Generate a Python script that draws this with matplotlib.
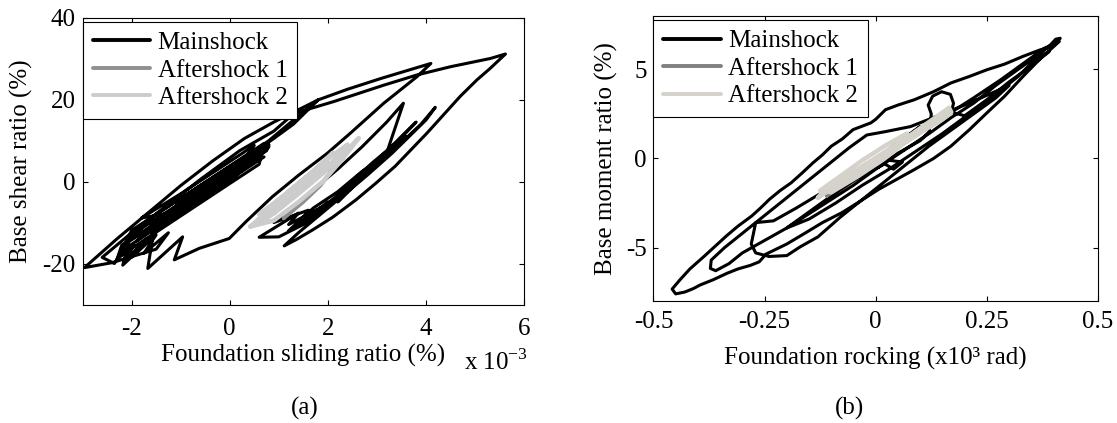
import numpy as np
import matplotlib
matplotlib.use("Agg")
import matplotlib.pyplot as plt

plt.rcParams["font.family"] = ["Liberation Serif", "DejaVu Serif"]
plt.rcParams["mathtext.fontset"] = "custom"
plt.rcParams["mathtext.rm"] = "Liberation Serif"
plt.rcParams["axes.unicode_minus"] = False

# (a) sliding ratio (x 10^-3 %) vs base shear ratio (%)
main_a = [
    # dense cycles near the origin
    (0.0, 0.0), (0.4, 4.5), (0.8, 8.5), (0.5, 5.0), (-0.2, -1.5), (-0.9, -7.0),
    (-1.8, -8.9), (-1.0, -3.0), (-0.3, 2.5), (0.5, 8.8), (0.0, 0.5), (-1.0, -7.4),
    (-2.2, -16.9), (-2.0, -11.9), (-1.0, -4.1), (0.0, 3.8), (0.7, 9.3), (0.6, 4.2),
    (0.0, -0.5), (-1.0, -8.4), (-2.2, -17.9), (-2.0, -13.0), (-1.0, -5.2), (0.0, 2.7),
    (0.8, 9.0), (0.75, 7.5), (0.0, 1.6), (-1.0, -6.3), (-2.1, -15.0), (-1.5, -8.0),
    (-0.6, -1.0), (0.3, 6.0), (0.7, 6.0), (0.0, 0.5), (-0.8, -6.0), (-1.6, -12.5),
    (-1.0, -4.8), (-0.2, 1.8), (0.6, 8.2), (0.2, 2.3), (-0.5, -3.6), (-1.3, -10.0),
    (-1.6, -10.6), (-0.8, -4.3), (0.0, 2.0), (0.65, 7.2), (0.3, 3.2), (-0.5, -3.5),
    (-1.4, -10.6), (-0.7, -3.8), (0.1, 2.8), (0.7, 7.8), (0.4, 4.6), (-0.4, -2.0),
    (-1.2, -8.2), (-1.9, -14.5), (-1.3, -8.0), (-0.5, -1.0), (0.3, 5.5), (0.9, 10.5),
    (1.3, 14.0), (1.8, 19.9), (1.4, 16.0), (0.8, 10.0), (0.1, 4.0), (-0.6, -2.0),
    (-1.2, -7.5), (-1.8, -12.5), (-2.2, -15.5),
    # saw-tooth at the lower left
    (-2.3, -19.0), (-1.95, -15.5), (-2.15, -19.5), (-1.7, -14.0), (-2.0, -18.5),
    (-1.5, -13.0), (-1.75, -17.5), (-1.25, -12.5), (-1.5, -16.5), (-2.4, -19.8),
    (-2.96, -21.0),
    # outer loop to peak A
    (-2.3, -14.0), (-1.65, -7.5), (-1.0, -1.0), (-0.35, 5.0), (0.3, 10.5), (0.9, 14.5),
    (1.4, 17.5), (1.8, 19.9), (2.4, 22.5), (3.1, 25.2), (3.6, 27.0), (4.1, 28.8),
    (3.82, 25.6), (3.14, 19.1), (2.46, 11.8), (1.99, 6.9), (1.4, 1.5), (0.87, -3.7),
    (0.33, -9.8), (-0.01, -13.9), (-0.62, -16.3), (-1.13, -19.1), (-0.96, -13.5),
    (-1.67, -21.2), (-1.57, -13.5), (-2.18, -20.4), (-2.04, -13.9), (-2.35, -20.0),
    (-2.6, -18.5), (-2.0, -12.5), (-1.3, -6.0), (-0.6, 0.5), (0.2, 7.5), (0.9, 12.3),
    (1.31, 16.6),
    # loop to peak B
    (2.12, 19.5), (3.14, 23.5), (3.82, 26.0), (4.5, 28.0), (5.31, 30.0), (5.62, 31.1),
    (5.3, 27.5), (5.04, 24.8), (4.7, 20.8), (4.39, 16.7), (4.02, 11.8), (3.7, 7.8),
    (3.37, 3.7), (2.97, -0.5), (2.57, -4.5), (2.1, -8.7), (1.69, -11.8), (1.35, -14.2),
    (1.11, -15.7),
    # right cluster
    (1.4, -12.5), (1.8, -8.5), (2.3, -3.5), (2.8, 1.5), (3.3, 6.8), (3.7, 11.5),
    (4.0, 15.0), (4.19, 18.1), (3.9, 14.0), (3.5, 9.5), (3.0, 4.0), (2.5, -1.0),
    (2.0, -6.0), (1.5, -10.5), (1.0, -13.5), (0.6, -13.6), (1.4, -7.7), (1.2, -10.5),
    (1.9, -6.1), (1.6, -9.5), (2.4, -2.5), (2.2, -5.0), (2.8, 2.0), (3.2, 7.0),
    (3.54, 19.1), (3.2, 14.5), (2.7, 8.5), (2.2, 3.0), (1.7, -2.0), (1.3, -6.5),
    (0.9, -10.0), (1.6, -7.0), (1.4, -10.5), (2.0, -5.0), (1.8, -8.0), (2.6, 0.0),
    (3.1, 5.5), (2.7, 2.5), (2.2, -2.5), (1.7, -6.5), (1.2, -12.0), (1.6, -9.0),
    (2.4, -1.5), (3.2, 7.0), (3.6, 11.0), (3.3, 8.5), (2.8, 3.0), (2.3, -2.0),
    (2.9, 4.5), (3.4, 9.5), (3.8, 14.5), (3.5, 11.0), (3.0, 5.0),
]
after1_a = [
    (1.1, -9.0), (1.5, -5.0), (1.85, -1.0), (2.1, 3.0), (1.9, 0.0), (1.5, -4.5),
    (1.15, -8.0), (1.1, -9.0),
]
after2_a = [
    (0.42, -11.0), (0.9, -7.8), (1.4, -3.0), (1.9, 2.0), (2.3, 6.5), (2.63, 10.6),
    (2.3, 5.5), (1.9, 0.0), (1.4, -5.0), (0.9, -9.5), (0.42, -11.0), (0.6, -9.0),
    (1.0, -4.5), (1.5, 0.5), (2.0, 5.5), (2.4, 9.0), (2.2, 6.0), (1.7, 0.5),
    (1.2, -4.5), (0.7, -8.5), (0.8, -6.5), (1.2, -2.5), (1.7, 2.5), (2.1, 7.0),
    (1.8, 3.0), (1.3, -2.0), (0.9, -6.0), (0.6, -8.0), (1.1, -3.5), (1.6, 1.5),
    (2.0, 4.5), (1.6, -0.5), (1.1, -5.5), (0.7, -9.5),
]

# (b) foundation rocking (x10^3 rad) vs base moment ratio (%)
main_b = [
    (0.0, 0.0), (0.05, 0.9), (0.1, 1.8), (0.06, 1.0), (0.0, 0.0), (-0.05, -1.0),
    (-0.1, -1.9), (-0.06, -1.1), (0.006, -0.5), (0.06, 0.4), (0.12, 1.4), (0.17, 2.3),
    (0.22, 3.1), (0.27, 4.1), (0.32, 5.0), (0.36, 5.7), (0.39, 6.3), (0.405, 6.7),
    (0.415, 6.75), (0.397, 6.29), (0.37, 6.1), (0.331, 5.73), (0.29, 5.3), (0.25, 4.98),
    (0.21, 4.6), (0.169, 4.24), (0.13, 3.75), (0.087, 3.3), (0.05, 3.0), (0.022, 2.74),
    (0.0, 2.2), (-0.011, 2.0), (-0.051, 1.62), (-0.075, 1.1), (-0.1, 0.69),
    (-0.12, 0.2), (-0.141, -0.24), (-0.165, -0.8), (-0.19, -1.36), (-0.215, -1.8),
    (-0.239, -2.29), (-0.26, -2.8), (-0.279, -3.23), (-0.31, -3.8), (-0.336, -4.35),
    (-0.36, -4.9), (-0.385, -5.47), (-0.4, -5.8), (-0.418, -6.2), (-0.44, -6.8),
    (-0.458, -7.33), (-0.45, -7.6), (-0.43, -7.5), (-0.41, -7.3), (-0.395, -7.1),
    (-0.365, -6.8), (-0.335, -6.45), (-0.31, -6.2), (-0.282, -6.0), (-0.262, -5.8),
    (-0.247, -5.37), (-0.2, -4.8), (-0.157, -4.16), (-0.12, -3.6), (-0.076, -3.04),
    (-0.035, -2.4), (0.006, -1.74), (0.045, -1.2), (0.087, -0.62), (0.13, 0.0),
    (0.169, 0.69), (0.21, 1.6), (0.25, 2.56), (0.29, 3.5), (0.331, 4.6), (0.37, 5.6),
    (0.413, 6.57), (0.38, 6.2), (0.33, 5.3), (0.28, 4.4), (0.22, 3.4), (0.17, 2.6),
    (0.12, 1.8), (0.06, 0.9), (0.0, 0.0), (-0.06, -0.9), (-0.12, -1.9), (-0.18, -2.8),
    (-0.23, -3.5), (-0.27, -3.6), (-0.275, -4.2), (-0.28, -4.8), (-0.27, -5.3),
    (-0.24, -5.5), (-0.2, -5.45), (-0.17, -4.96), (-0.13, -4.4), (-0.08, -3.3),
    (-0.03, -2.3), (0.02, -1.3), (0.07, -0.3), (0.12, 0.7), (0.17, 1.6), (0.22, 2.5),
    (0.27, 3.4), (0.3, 4.1), (0.2, 3.0), (0.13, 2.3), (0.078, 1.79), (0.02, 1.5),
    (-0.02, 1.32), (-0.06, 0.6), (-0.1, -0.2), (-0.15, -1.2), (-0.2, -2.2),
    (-0.25, -3.2), (-0.3, -4.2), (-0.34, -5.0), (-0.37, -5.7), (-0.372, -6.17),
    (-0.36, -6.3), (-0.33, -5.9), (-0.3, -5.3), (-0.25, -4.6), (-0.2, -3.9),
    (-0.15, -3.1), (-0.1, -2.3), (-0.05, -1.5), (0.0, -0.6), (0.05, 0.3), (0.1, 1.0),
    (0.12, 1.5), (0.125, 2.5), (0.118, 3.0), (0.128, 3.5), (0.148, 3.75), (0.168, 3.6),
    (0.175, 3.1), (0.17, 2.6), (0.2, 2.4), (0.25, 3.3), (0.3, 4.3), (0.35, 5.2),
    (0.39, 6.0), (0.36, 5.6), (0.32, 4.6), (0.27, 3.6), (0.21, 2.5), (0.15, 1.4),
    (0.09, 0.4), (0.03, -0.6), (-0.03, -1.5), (-0.09, -2.5), (-0.15, -3.4),
    (-0.2, -3.9), (-0.15, -3.0), (-0.1, -2.1), (-0.04, -1.1), (0.02, -0.3), (0.04, -0.6),
    (0.06, -0.2), (0.0, 0.0),
]
after1_b = [
    (-0.11, -2.1), (-0.06, -1.2), (0.0, -0.2), (0.05, 0.6), (0.08, 1.2), (0.06, 0.9),
    (0.0, 0.0), (-0.05, -0.9), (-0.11, -2.1),
]
after2_b = [
    (-0.13, -2.2), (-0.09, -1.4), (-0.04, -0.6), (0.01, 0.2), (0.06, 1.0), (0.1, 1.7),
    (0.14, 2.4), (0.165, 2.85), (0.17, 2.6), (0.15, 2.2), (0.11, 1.6), (0.06, 0.8),
    (0.0, -0.1), (-0.05, -0.9), (-0.1, -1.7), (-0.13, -2.2), (-0.12, -1.9),
    (-0.07, -1.2), (-0.02, -0.3), (0.04, 0.5), (0.09, 1.3), (0.13, 2.0), (0.16, 2.7),
    (0.12, 1.9), (0.07, 1.0), (0.02, 0.0), (-0.04, -1.0), (-0.1, -1.9), (-0.125, -1.8),
    (-0.08, -1.0), (-0.03, -0.1), (0.02, 0.7), (0.07, 1.4),
]

labels = ["Mainshock", "Aftershock 1", "Aftershock 2"]
colors_a = ["black", "#8f8f8f", "#cccccc"]
colors_b = ["black", "#808080", "#d5d2cb"]
widths = [2.2, 2.6, 3.2]

fig = plt.figure(figsize=(11.17, 4.23), dpi=100)
ax1 = fig.add_axes([0.0739, 0.2801, 0.3953, 0.6785])
ax2 = fig.add_axes([0.585, 0.2884, 0.398, 0.6738])

for ax, series, colors in [(ax1, [main_a, after1_a, after2_a], colors_a),
                           (ax2, [main_b, after1_b, after2_b], colors_b)]:
    for pts, c, lab, w in zip(series, colors, labels, widths):
        arr = np.array(pts)
        ax.plot(arr[:, 0], arr[:, 1], color=c, lw=w, label=lab,
                solid_joinstyle="round", solid_capstyle="round")
    ax.tick_params(direction="in", top=True, right=True, length=3.5, width=0.8,
                   labelsize=18, pad=5)
    for s in ax.spines.values():
        s.set_linewidth(0.8)
    leg = ax.legend(loc="upper left", bbox_to_anchor=(0, 0.986), borderaxespad=0,
                    fontsize=18, handlelength=2.3, handletextpad=0.3, borderpad=0.4,
                    labelspacing=0.2, fancybox=False, framealpha=1)
    leg.get_frame().set_edgecolor("black")
    leg.get_frame().set_linewidth(0.8)
    for line in leg.get_lines():
        line.set_linewidth(2.8)

ax1.tick_params(axis="x", pad=9.5)
ax2.tick_params(axis="x", pad=7.5)

ax1.set_xlim(-3, 6)
ax1.set_ylim(-30, 40)
ax1.set_xticks([-2, 0, 2, 4, 6])
ax1.set_yticks([-20, 0, 20, 40])
ax1.set_xlabel("Foundation sliding ratio (%)", fontsize=18, va="center")
ax1.set_ylabel("Base shear ratio (%)", fontsize=18, va="center")
ax1.xaxis.set_label_coords(0.5, -0.176)
ax1.yaxis.set_label_coords(-0.139, 0.5)

ax2.set_xlim(-0.5, 0.5)
ax2.set_ylim(-8, 8)
ax2.set_xticks([-0.5, -0.25, 0, 0.25, 0.5])
ax2.set_xticklabels(["-0.5", "-0.25", "0", "0.25", "0.5"])
ax2.set_yticks([-5, 0, 5])
ax2.set_xlabel("Foundation rocking (x10³ rad)", fontsize=18, va="center")
ax2.set_ylabel("Base moment ratio (%)", fontsize=18, va="center")
ax2.xaxis.set_label_coords(0.5, -0.2)
ax2.yaxis.set_label_coords(-0.106, 0.5)

fig.text(464 / 1117, 1 - 362 / 423, "x 10$^{-3}$", fontsize=18, ha="left", va="center")
fig.text(305 / 1117, 1 - 408 / 423, "(a)", fontsize=18, ha="center", va="center")
fig.text(850 / 1117, 1 - 408 / 423, "(b)", fontsize=18, ha="center", va="center")

fig.savefig("out.png", dpi=100)
